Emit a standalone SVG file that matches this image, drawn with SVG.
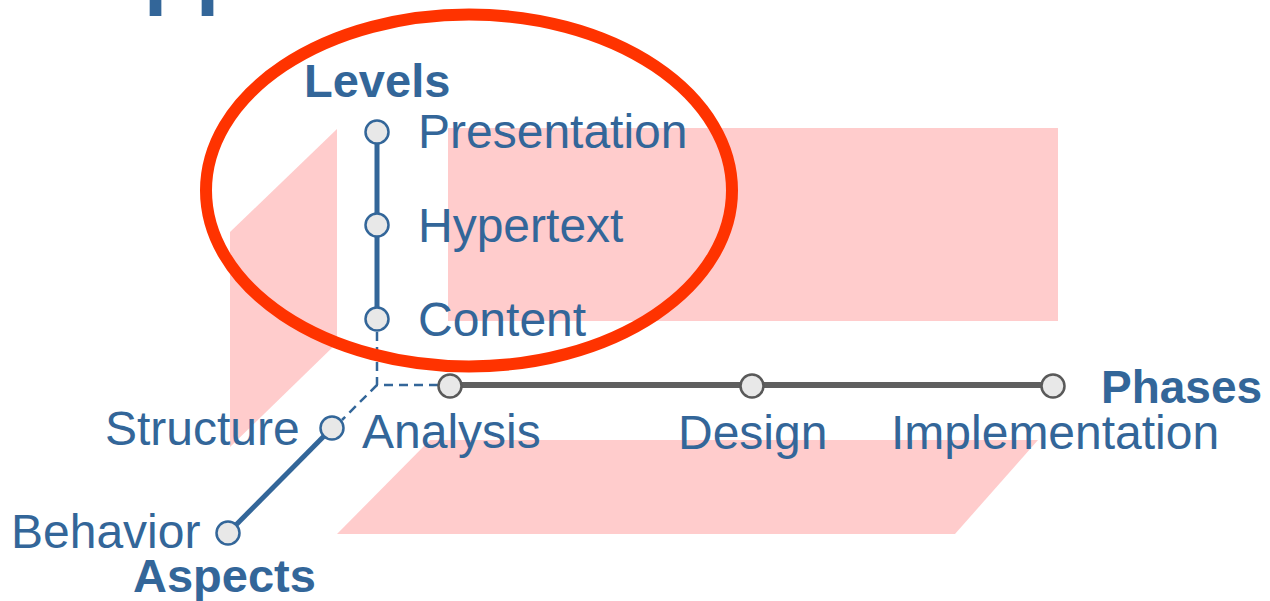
<svg xmlns="http://www.w3.org/2000/svg" width="1270" height="601" viewBox="0 0 1270 601">
<style>
.t{font-family:"Liberation Sans",Arial,sans-serif;fill:#336699;font-size:48px}
.b{font-weight:bold;font-size:47px}
.pink{fill:#ffcccc}
.nb{fill:#e8e8e8;stroke:#336699;stroke-width:2.5}
.ng{fill:#e8e8e8;stroke:#595959;stroke-width:2.5}
</style>
<rect width="1270" height="601" fill="#ffffff"/>
<text class="t b" x="-116" y="-2" style="font-size:85px">Web Applications</text>
<g id="planes">
<polygon class="pink" points="230,232 337,129 337,343 230,447"/>
<rect class="pink" x="448" y="128" width="610" height="193"/>
<polygon class="pink" points="430,440 1038,440 955,534 337,534"/>
</g>
<g id="connectors">
<line x1="377" y1="132" x2="377" y2="319" stroke="#336699" stroke-width="5"/>
<path d="M377,332 V385 H438 M377,385 L342,420" fill="none" stroke="#336699" stroke-width="2.5" stroke-dasharray="9,6"/>
<line x1="450" y1="385" x2="1053" y2="385" stroke="#5f5f5f" stroke-width="6"/>
<line x1="332" y1="428" x2="228" y2="533" stroke="#336699" stroke-width="5"/>
</g>
<g id="levels">
<text class="t b" x="304" y="97">Levels</text>
<g id="presentation"><circle class="nb" cx="377" cy="132" r="11.5"/><text class="t" x="418" y="148">Presentation</text></g>
<g id="hypertext"><circle class="nb" cx="377" cy="225" r="11.5"/><text class="t" x="418" y="242">Hypertext</text></g>
<g id="content"><circle class="nb" cx="377" cy="319" r="11.5"/><text class="t" x="418" y="336">Content</text></g>
</g>
<g id="phases">
<text class="t b" x="1101" y="403" style="font-size:46px">Phases</text>
<g id="analysis"><circle class="ng" cx="450" cy="386" r="11.5"/><text class="t" x="362" y="448">Analysis</text></g>
<g id="design"><circle class="ng" cx="752" cy="386" r="11.5"/><text class="t" x="678" y="449">Design</text></g>
<g id="implementation"><circle class="ng" cx="1053" cy="386" r="11.5"/><text class="t" x="891" y="449">Implementation</text></g>
</g>
<g id="aspects">
<text class="t b" x="133" y="592">Aspects</text>
<g id="structure"><circle class="nb" cx="332" cy="428" r="11.5"/><text class="t" x="105" y="445">Structure</text></g>
<g id="behavior"><circle class="nb" cx="228" cy="533" r="11.5"/><text class="t" x="11" y="548">Behavior</text></g>
</g>
<g id="highlight">
<ellipse cx="469" cy="190.5" rx="263" ry="176" fill="none" stroke="#ff3300" stroke-width="12"/>
</g>
</svg>
